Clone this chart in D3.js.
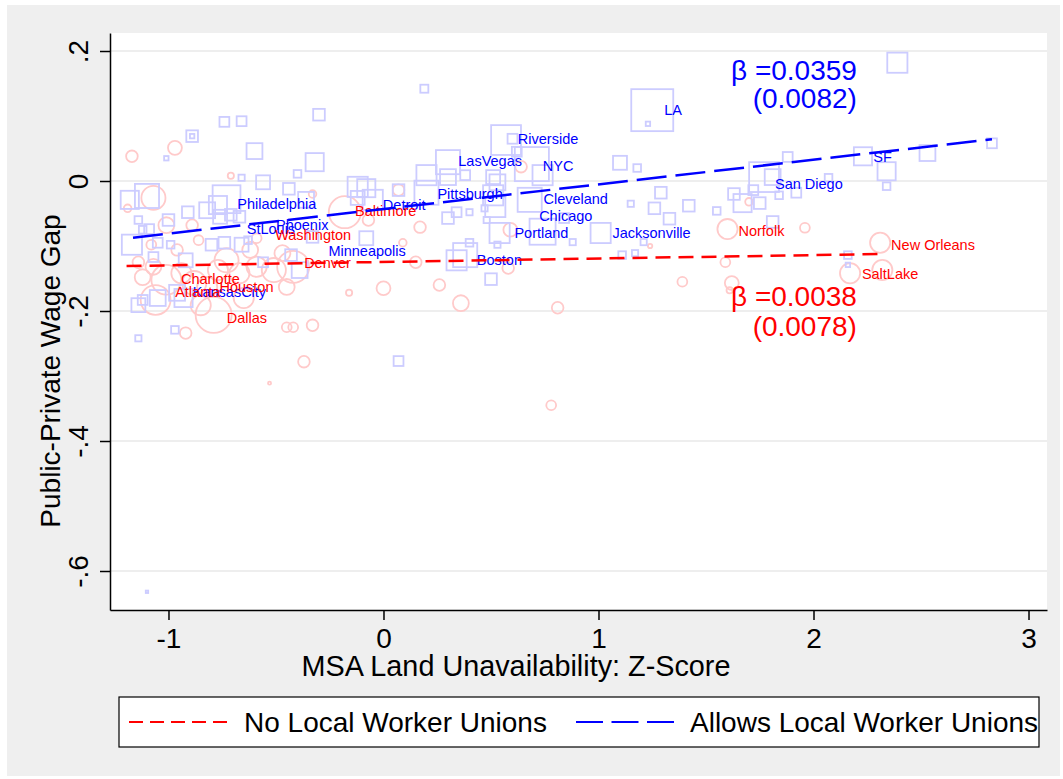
<!DOCTYPE html>
<html>
<head>
<meta charset="utf-8">
<script src="https://cdn.jsdelivr.net/npm/d3@7"></script>
<style>
  body { margin: 0; background: #ffffff; }
  svg text { font-family: "Liberation Sans", Arial, sans-serif; }
</style>
</head>
<body>
<svg id="chart" width="1063" height="779"></svg>
<script>
// x = land unavailability z-score, y = public-private wage gap, pop = MSA weight
const allowsPts = [
  [0.19,0.142,3.3],[-0.74,0.091,5],[-0.66,0.092,5],[-0.89,0.069,7],[-0.89,0.069,1],[-0.30,0.102,7],
  [-0.60,0.046,13],[-0.32,0.029,17],[-0.66,0.005,2],[-0.40,0.011,3],[-0.56,-0.002,10],[-0.44,-0.012,7],
  [-1.18,-0.029,17],[-1.10,-0.023,30],[-0.73,-0.028,40],[-0.77,-0.037,17],[-0.82,-0.045,13],[-0.76,-0.055,10],
  [-0.71,-0.052,7],[-0.67,-0.055,7],[-0.91,-0.048,7],[-1.00,-0.060,7],[-1.14,-0.060,3],[-1.12,-0.075,3],
  [-0.12,-0.009,21],[-0.08,-0.011,17],[-0.12,-0.026,10],[-0.05,-0.029,21],[0.07,-0.014,7],[0.20,0.009,21],
  [0.20,-0.018,30],[0.30,0.029,30],[0.30,0.006,13],[0.30,-0.057,7],[-0.08,-0.088,10],[-0.33,-0.086,7],
  [-0.43,-0.114,7],[-0.39,-0.137,13],[0.34,-0.122,21],[-0.36,-0.029,13],[-1.17,-0.098,21],[-1.05,-0.095,5],
  [-1.09,-0.074,5],[-0.99,-0.098,3],[-0.80,-0.098,7],[-0.74,-0.095,7],[-0.66,-0.098,10],[-0.63,-0.091,3],
  [-0.92,-0.122,10],[-1.07,-0.117,5],[-0.56,-0.125,5],[-0.96,-0.172,13],[-0.93,-0.180,17],[-1.05,-0.180,13],
  [-1.14,-0.191,10],[-1.12,-0.183,5],[-0.97,-0.229,3],[-1.14,-0.242,2],[0.57,0.063,46],[0.60,0.065,5],
  [0.62,0.045,5],[0.69,0.026,60],[0.74,0.009,21],[0.38,0.009,5],[0.51,0.006,10],[0.53,-0.002,13],
  [0.68,-0.029,30],[0.51,-0.022,21],[0.52,-0.040,21],[0.34,-0.048,5],[0.40,-0.048,2],[0.47,-0.042,2],
  [0.48,-0.060,2],[0.54,-0.080,21],[0.74,-0.078,35],[0.84,-0.057,5],[0.53,-0.098,2],[0.40,-0.095,3],
  [0.38,-0.114,30],[0.50,-0.151,7],[0.88,-0.094,2],[1.01,-0.080,21],[1.11,-0.114,3],[1.17,-0.111,2],
  [1.10,0.028,10],[1.18,0.020,3],[1.15,-0.035,2],[1.25,0.109,91],[1.23,0.088,1],[1.29,-0.018,7],
  [1.26,-0.042,7],[1.42,-0.038,7],[1.33,-0.058,7],[1.55,-0.046,3],[1.63,-0.020,7],[1.67,-0.034,17],
  [1.75,-0.034,7],[1.77,0.006,46],[1.81,0.006,13],[1.72,-0.014,5],[1.84,-0.022,3],[1.92,-0.018,5],
  [1.88,0.037,5],[1.81,-0.063,7],[1.21,-0.094,2],[2.39,0.182,21],[2.23,0.038,17],[2.34,0.015,17],
  [2.34,-0.008,3],[2.53,0.043,13],[2.83,0.058,5],[2.07,0.005,3],[2.16,-0.114,3],[2.16,-0.129,1],
  [0.07,-0.277,5],[-1.10,-0.632,0.3],[-1.01,0.035,1]
];

const noUnionPts = [
  [-1.17,0.038,7],[-0.97,0.051,10],[-0.71,0.008,2],[-0.33,-0.020,3],[-1.19,-0.042,3],[-1.07,-0.026,30],
  [-0.89,-0.068,7],[-0.18,-0.048,53],[0.07,-0.014,7],[0.17,-0.071,7],[-0.07,-0.060,7],[-1.07,-0.132,13],
  [-1.01,-0.152,46],[-1.06,-0.183,46],[-1.12,-0.148,13],[-0.94,-0.142,21],[-0.88,-0.157,30],[-0.82,-0.163,21],
  [-0.77,-0.137,21],[-0.79,-0.206,67],[-0.67,-0.142,21],[-0.62,-0.106,13],[-0.59,-0.132,21],[-0.51,-0.137,30],
  [-0.47,-0.111,13],[-0.45,-0.163,13],[-0.45,-0.225,5],[-0.42,-0.225,5],[-0.33,-0.222,7],[-0.92,-0.234,7],
  [-0.59,-0.088,5],[-0.86,-0.091,5],[-1.08,-0.098,5],[-0.96,-0.106,7],[-0.42,-0.132,53],[0.00,-0.165,10],
  [-0.16,-0.172,2],[0.09,-0.095,3],[0.26,-0.160,7],[0.36,-0.188,13],[0.15,-0.125,7],[0.64,0.022,7],
  [0.59,-0.075,10],[0.58,-0.134,7],[0.81,-0.195,7],[1.60,-0.074,21],[1.70,-0.032,3],[1.96,-0.072,5],
  [1.59,-0.125,5],[1.39,-0.155,5],[1.62,-0.157,10],[1.61,-0.168,2],[1.24,-0.100,1],[2.31,-0.095,21],
  [2.17,-0.142,21],[2.32,-0.137,21],[-0.37,-0.278,7],[-0.53,-0.311,0.5],[0.78,-0.345,5],[-0.73,-0.122,30],
  [-0.85,-0.191,21],[-0.65,-0.180,21],[-1.14,-0.125,7],[-1.01,-0.068,13]
];

// city labels: name, x, y (baseline, left edge)
const allowsLabels = [
  ["Philadelphia",-0.68,-0.043],["Detroit",-0.003,-0.045],["StLouis",-0.636,-0.082],["Phoenix",-0.50,-0.075],
  ["Minneapolis",-0.256,-0.115],["KansasCity",-0.887,-0.178],["Pittsburgh",0.251,-0.028],["LasVegas",0.348,0.023],
  ["Riverside",0.625,0.057],["NYC",0.741,0.015],["LA",1.306,0.101],["Cleveland",0.744,-0.035],
  ["Chicago",0.724,-0.061],["Portland",0.609,-0.088],["Boston",0.434,-0.129],["Jacksonville",1.065,-0.088],
  ["San Diego",1.821,-0.013],["SF",2.278,0.030]
];
const noUnionLabels = [
  ["Baltimore",-0.132,-0.054],["Washington",-0.504,-0.090],["Denver",-0.369,-0.134],["Charlotte",-0.942,-0.159],
  ["Houston",-0.763,-0.171],["Atlanta",-0.969,-0.178],["Dallas",-0.729,-0.218],["Norfolk",1.651,-0.085],
  ["New Orleans",2.361,-0.106],["SaltLake",2.225,-0.151]
];

// fitted lines (end points)
const allowsFitX = [-1.165, 2.830];
const allowsFitY = [-0.0872, 0.0642];
const noUnionFitX = [-1.195, 2.322];
const noUnionFitY = [-0.1308, -0.1123];

const allowsNote = ["\u03B2 =0.0359", "(0.0082)"];
const noUnionNote = ["\u03B2 =0.0038", "(0.0078)"];

const xTicks = [-1, 0, 1, 2, 3];
const xTickLabels = ["-1", "0", "1", "2", "3"];
const yTicks = [0.2, 0, -0.2, -0.4, -0.6];
const yTickLabels = [".2", "0", "-.2", "-.4", "-.6"];

const legendLabels = ["No Local Worker Unions", "Allows Local Worker Unions"];

const BLUE = "#0000ff", RED = "#ff0000";
const SQ = "#ccccff", CI = "#ffcaca";

const svg = d3.select("#chart");
const plot = { left: 110, right: 1047, top: 33, bottom: 610 };

// outer graph region
svg.append("rect").attr("x", 7).attr("y", 5).attr("width", 1053).attr("height", 771).attr("fill", "#efefef");
svg.append("rect").attr("x", plot.left).attr("y", plot.top)
  .attr("width", plot.right - plot.left).attr("height", plot.bottom - plot.top).attr("fill", "#fff");

const x = d3.scaleLinear().domain([-1.272, 3.086]).range([plot.left, plot.right]);
const y = d3.scaleLinear().domain([-0.66, 0.2277]).range([plot.bottom, plot.top]);
const size = d3.scaleSqrt().domain([0, 100]).range([0, 22]);

// grid
svg.append("g").selectAll("line").data(yTicks).join("line")
  .attr("x1", plot.left).attr("x2", plot.right)
  .attr("y1", d => y(d)).attr("y2", d => y(d))
  .attr("stroke", "#e8e8e8").attr("stroke-width", 1.5);

// markers
svg.append("g").selectAll("circle").data(noUnionPts).join("circle")
  .attr("cx", d => x(d[0])).attr("cy", d => y(d[1])).attr("r", d => Math.max(1.2, size(d[2])))
  .attr("fill", "none").attr("stroke", CI).attr("stroke-width", 1.8);

svg.append("g").selectAll("rect").data(allowsPts).join("rect")
  .attr("x", d => x(d[0]) - Math.max(1.2, size(d[2])))
  .attr("y", d => y(d[1]) - Math.max(1.2, size(d[2])))
  .attr("width", d => 2 * Math.max(1.2, size(d[2])))
  .attr("height", d => 2 * Math.max(1.2, size(d[2])))
  .attr("fill", "none").attr("stroke", SQ).attr("stroke-width", 1.8);

// labels
function drawLabels(rows, color) {
  svg.append("g").selectAll("text").data(rows).join("text")
    .attr("x", d => x(d[1])).attr("y", d => y(d[2]))
    .attr("fill", color).attr("font-size", 14.5)
    .text(d => d[0]);
}
drawLabels(allowsLabels, BLUE);
drawLabels(noUnionLabels, RED);

// fit lines
const line = d3.line().x(d => x(d[0])).y(d => y(d[1]));
svg.append("path").datum(d3.zip(noUnionFitX, noUnionFitY)).attr("d", line)
  .attr("fill", "none").attr("stroke", RED).attr("stroke-width", 2.5).attr("stroke-dasharray", "15,8");
svg.append("path").datum(d3.zip(allowsFitX, allowsFitY)).attr("d", line)
  .attr("fill", "none").attr("stroke", BLUE).attr("stroke-width", 2.5).attr("stroke-dasharray", "30,9");

// beta notes
function drawNote(lines, ys, color) {
  svg.append("g").selectAll("text").data(lines).join("text")
    .attr("x", x(2.202)).attr("y", (d, i) => y(ys[i]))
    .attr("text-anchor", "end").attr("fill", color).attr("font-size", 28)
    .text(d => d);
}
drawNote(allowsNote, [0.155, 0.112], BLUE);
drawNote(noUnionNote, [-0.193, -0.239], RED);

// axes
const yAxis = svg.append("g").attr("transform", `translate(${plot.left},0)`)
  .call(d3.axisLeft(y).tickValues(yTicks).tickSize(10).tickSizeOuter(0)
    .tickFormat((d, i) => yTickLabels[i]));
yAxis.selectAll(".tick text")
  .attr("transform", "rotate(-90)").attr("x", 0).attr("y", -22).attr("dy", 0)
  .attr("text-anchor", "middle");

const xAxis = svg.append("g").attr("transform", `translate(0,${plot.bottom})`)
  .call(d3.axisBottom(x).tickValues(xTicks).tickSize(10).tickSizeOuter(0)
    .tickFormat((d, i) => xTickLabels[i]));
xAxis.selectAll(".tick text").attr("y", 38).attr("dy", 0);

svg.selectAll(".domain, .tick line").attr("stroke", "#000").attr("stroke-width", 1.5);
svg.selectAll(".tick text").attr("font-size", 28).attr("fill", "#000")
  .attr("font-family", "Liberation Sans, Arial, sans-serif");

svg.append("text").attr("x", 516).attr("y", 676).attr("text-anchor", "middle")
  .attr("font-size", 28.8).text("MSA Land Unavailability: Z-Score");
svg.append("text").attr("transform", "translate(60,371) rotate(-90)").attr("text-anchor", "middle")
  .attr("font-size", 28).text("Public-Private Wage Gap");

// legend
const lg = svg.append("g");
lg.append("rect").attr("x", 119).attr("y", 697).attr("width", 920).attr("height", 50)
  .attr("fill", "#fff").attr("stroke", "#000").attr("stroke-width", 1.2);
const legendItems = [
  { label: legendLabels[0], color: RED, dash: "14,7", x0: 129, tx: 244 },
  { label: legendLabels[1], color: BLUE, dash: "27,8.5", x0: 576, tx: 690 }
];
legendItems.forEach(it => {
  lg.append("line").attr("x1", it.x0).attr("x2", it.x0 + 99).attr("y1", 722).attr("y2", 722)
    .attr("stroke", it.color).attr("stroke-width", 2).attr("stroke-dasharray", it.dash);
  lg.append("text").attr("x", it.tx).attr("y", 732).attr("font-size", 28).text(it.label);
});
</script>
</body>
</html>
